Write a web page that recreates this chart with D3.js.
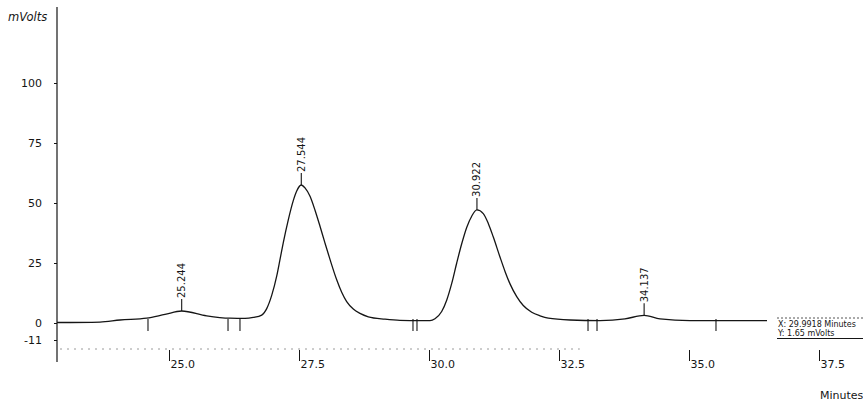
<!DOCTYPE html>
<html>
<head>
<meta charset="utf-8">
<script src="https://cdn.jsdelivr.net/npm/d3@7"></script>
<style>
  html, body { margin: 0; padding: 0; background: #fff; }
  svg { display: block; font-family: "DejaVu Sans", sans-serif; }
</style>
</head>
<body>
<svg id="chart" width="863" height="402"></svg>
<script>
// ---- data ----
const timesMin = [22.846, 23.673, 24.058, 24.571, 24.923, 25.244, 25.725, 26.173, 26.462, 26.621,
  26.783, 26.879, 26.975, 27.071, 27.135, 27.198, 27.294, 27.390, 27.456, 27.544,
  27.615, 27.712, 27.808, 27.904, 28.000, 28.096, 28.225, 28.321, 28.417, 28.544,
  28.673, 28.833, 29.154, 29.442, 29.827, 30.019, 30.115, 30.244, 30.340, 30.437,
  30.533, 30.629, 30.725, 30.821, 30.922, 31.044, 31.140, 31.237, 31.365, 31.462,
  31.558, 31.687, 31.813, 31.975, 32.135, 32.294, 32.712, 33.288, 33.769, 34.137,
  34.442, 35.019, 36.500];
const signalMv = [0.2, 0.4, 1.25, 2.0, 3.6, 5.0, 3.0, 2.0, 1.9, 2.3,
  3.3, 6.0, 11.5, 19.5, 26.5, 33.5, 43.0, 51.0, 55.0, 57.5,
  56.3, 52.8, 47.0, 40.3, 33.3, 26.5, 18.0, 12.8, 8.9, 5.8,
  4.0, 2.6, 1.6, 1.1, 1.0, 1.0, 1.8, 4.8, 9.5, 16.5,
  25.0, 33.0, 39.8, 44.5, 47.1, 45.6, 41.5, 35.8, 27.5, 21.5,
  16.3, 11.0, 7.3, 4.5, 3.0, 2.0, 1.25, 1.0, 1.7, 3.2,
  1.7, 1.0, 1.0];

const peakTimes = [25.244, 27.544, 30.922, 34.137];
const peakHeights = [5.0, 57.5, 47.1, 3.2];
const peakLabels = ["25.244", "27.544", "30.922", "34.137"];

const eventTimes = [24.596, 26.135, 26.365, 29.692, 29.769, 33.058, 33.231, 35.519];

const xTickValues = [25.0, 27.5, 30.0, 32.5, 35.0, 37.5];
const xTickLabels = ["25.0", "27.5", "30.0", "32.5", "35.0", "37.5"];
const yTickValues = [100, 75, 50, 25, 0, -11];
const yTickLabels = ["100", "75", "50", "25", "0", "-11"];

const cursorLines = ["X: 29.9918 Minutes", "Y: 1.65 mVolts"];

// ---- scales ----
const svg = d3.select("#chart");
const x = d3.scaleLinear().domain([25, 37.5]).range([169, 819]);
const y = d3.scaleLinear().domain([-11, 0, 100]).range([340, 323, 83]);
const axisX = 57;
const ink = "#151515";

// y axis line
svg.append("line")
  .attr("x1", axisX).attr("x2", axisX)
  .attr("y1", 7).attr("y2", 362)
  .attr("stroke", ink).attr("stroke-width", 1.2);

// y axis ticks/labels
const yAxis = d3.axisLeft(y)
  .tickValues(yTickValues)
  .tickFormat((d, i) => yTickLabels[i])
  .tickSize(3).tickPadding(12);
const gy = svg.append("g").attr("transform", `translate(${axisX},0)`).call(yAxis);
gy.select(".domain").remove();
gy.selectAll(".tick line").attr("stroke", ink).attr("stroke-width", 1);
gy.selectAll(".tick text")
  .attr("fill", ink)
  .style("font-family", "DejaVu Sans, sans-serif")
  .style("font-size", "11px");

svg.append("text")
  .attr("x", 8).attr("y", 21)
  .attr("fill", ink)
  .style("font-size", "11.5px")
  .style("font-style", "italic")
  .text("mVolts");

// faint dotted line under the baseline
svg.append("line")
  .attr("x1", axisX + 3).attr("x2", x(32.9))
  .attr("y1", 349).attr("y2", 349)
  .attr("stroke", "#9a9a9a").attr("stroke-width", 1)
  .attr("stroke-dasharray", "2,5");

// x axis ticks/labels
const xAxis = d3.axisBottom(x)
  .tickValues(xTickValues)
  .tickFormat((d, i) => xTickLabels[i])
  .tickSize(11).tickPadding(0);
const gx = svg.append("g").attr("transform", "translate(0,350)").call(xAxis);
gx.select(".domain").remove();
gx.selectAll(".tick line").attr("stroke", ink).attr("stroke-width", 1);
gx.selectAll(".tick text")
  .attr("fill", ink)
  .attr("text-anchor", "start")
  .attr("x", 1)
  .attr("y", 18)
  .attr("dy", null)
  .style("font-family", "DejaVu Sans, sans-serif")
  .style("font-size", "11px");

svg.append("text")
  .attr("x", 820).attr("y", 399)
  .attr("fill", ink)
  .style("font-size", "11px")
  .text("Minutes");

// chromatogram trace
const pts = timesMin.map((t, i) => [t, signalMv[i]]);
const line = d3.line()
  .x(d => x(d[0]))
  .y(d => y(d[1]))
  .curve(d3.curveMonotoneX);
svg.append("path")
  .datum(pts)
  .attr("d", line)
  .attr("fill", "none")
  .attr("stroke", ink)
  .attr("stroke-width", 1.3);

// integration event marks
svg.append("g").selectAll("line")
  .data(eventTimes)
  .join("line")
  .attr("x1", d => x(d)).attr("x2", d => x(d))
  .attr("y1", y(0) - 4).attr("y2", y(0) + 8)
  .attr("stroke", ink).attr("stroke-width", 1.1);

// peak labels
const pk = svg.append("g").selectAll("g")
  .data(peakTimes.map((t, i) => ({ t, h: peakHeights[i], lab: peakLabels[i] })))
  .join("g");
pk.append("line")
  .attr("x1", d => x(d.t)).attr("x2", d => x(d.t))
  .attr("y1", d => y(d.h)).attr("y2", d => y(d.h) - 12)
  .attr("stroke", ink).attr("stroke-width", 1.1);
pk.append("text")
  .attr("transform", d => `translate(${x(d.t)},${y(d.h) - 13}) rotate(-90)`)
  .attr("dy", "0.35em")
  .attr("fill", ink)
  .style("font-size", "10px")
  .text(d => d.lab);

// cursor readout box
const cb = svg.append("g");
cb.append("line")
  .attr("x1", 777).attr("x2", 863).attr("y1", 318).attr("y2", 318)
  .attr("stroke", "#555").attr("stroke-width", 1).attr("stroke-dasharray", "2,2");
cb.selectAll("text")
  .data(cursorLines)
  .join("text")
  .attr("x", 778)
  .attr("y", (d, i) => 327 + i * 9)
  .attr("fill", ink)
  .style("font-size", "8px")
  .text(d => d);
cb.append("line")
  .attr("x1", 777).attr("x2", 863).attr("y1", 338.5).attr("y2", 338.5)
  .attr("stroke", ink).attr("stroke-width", 1);
</script>
</body>
</html>
